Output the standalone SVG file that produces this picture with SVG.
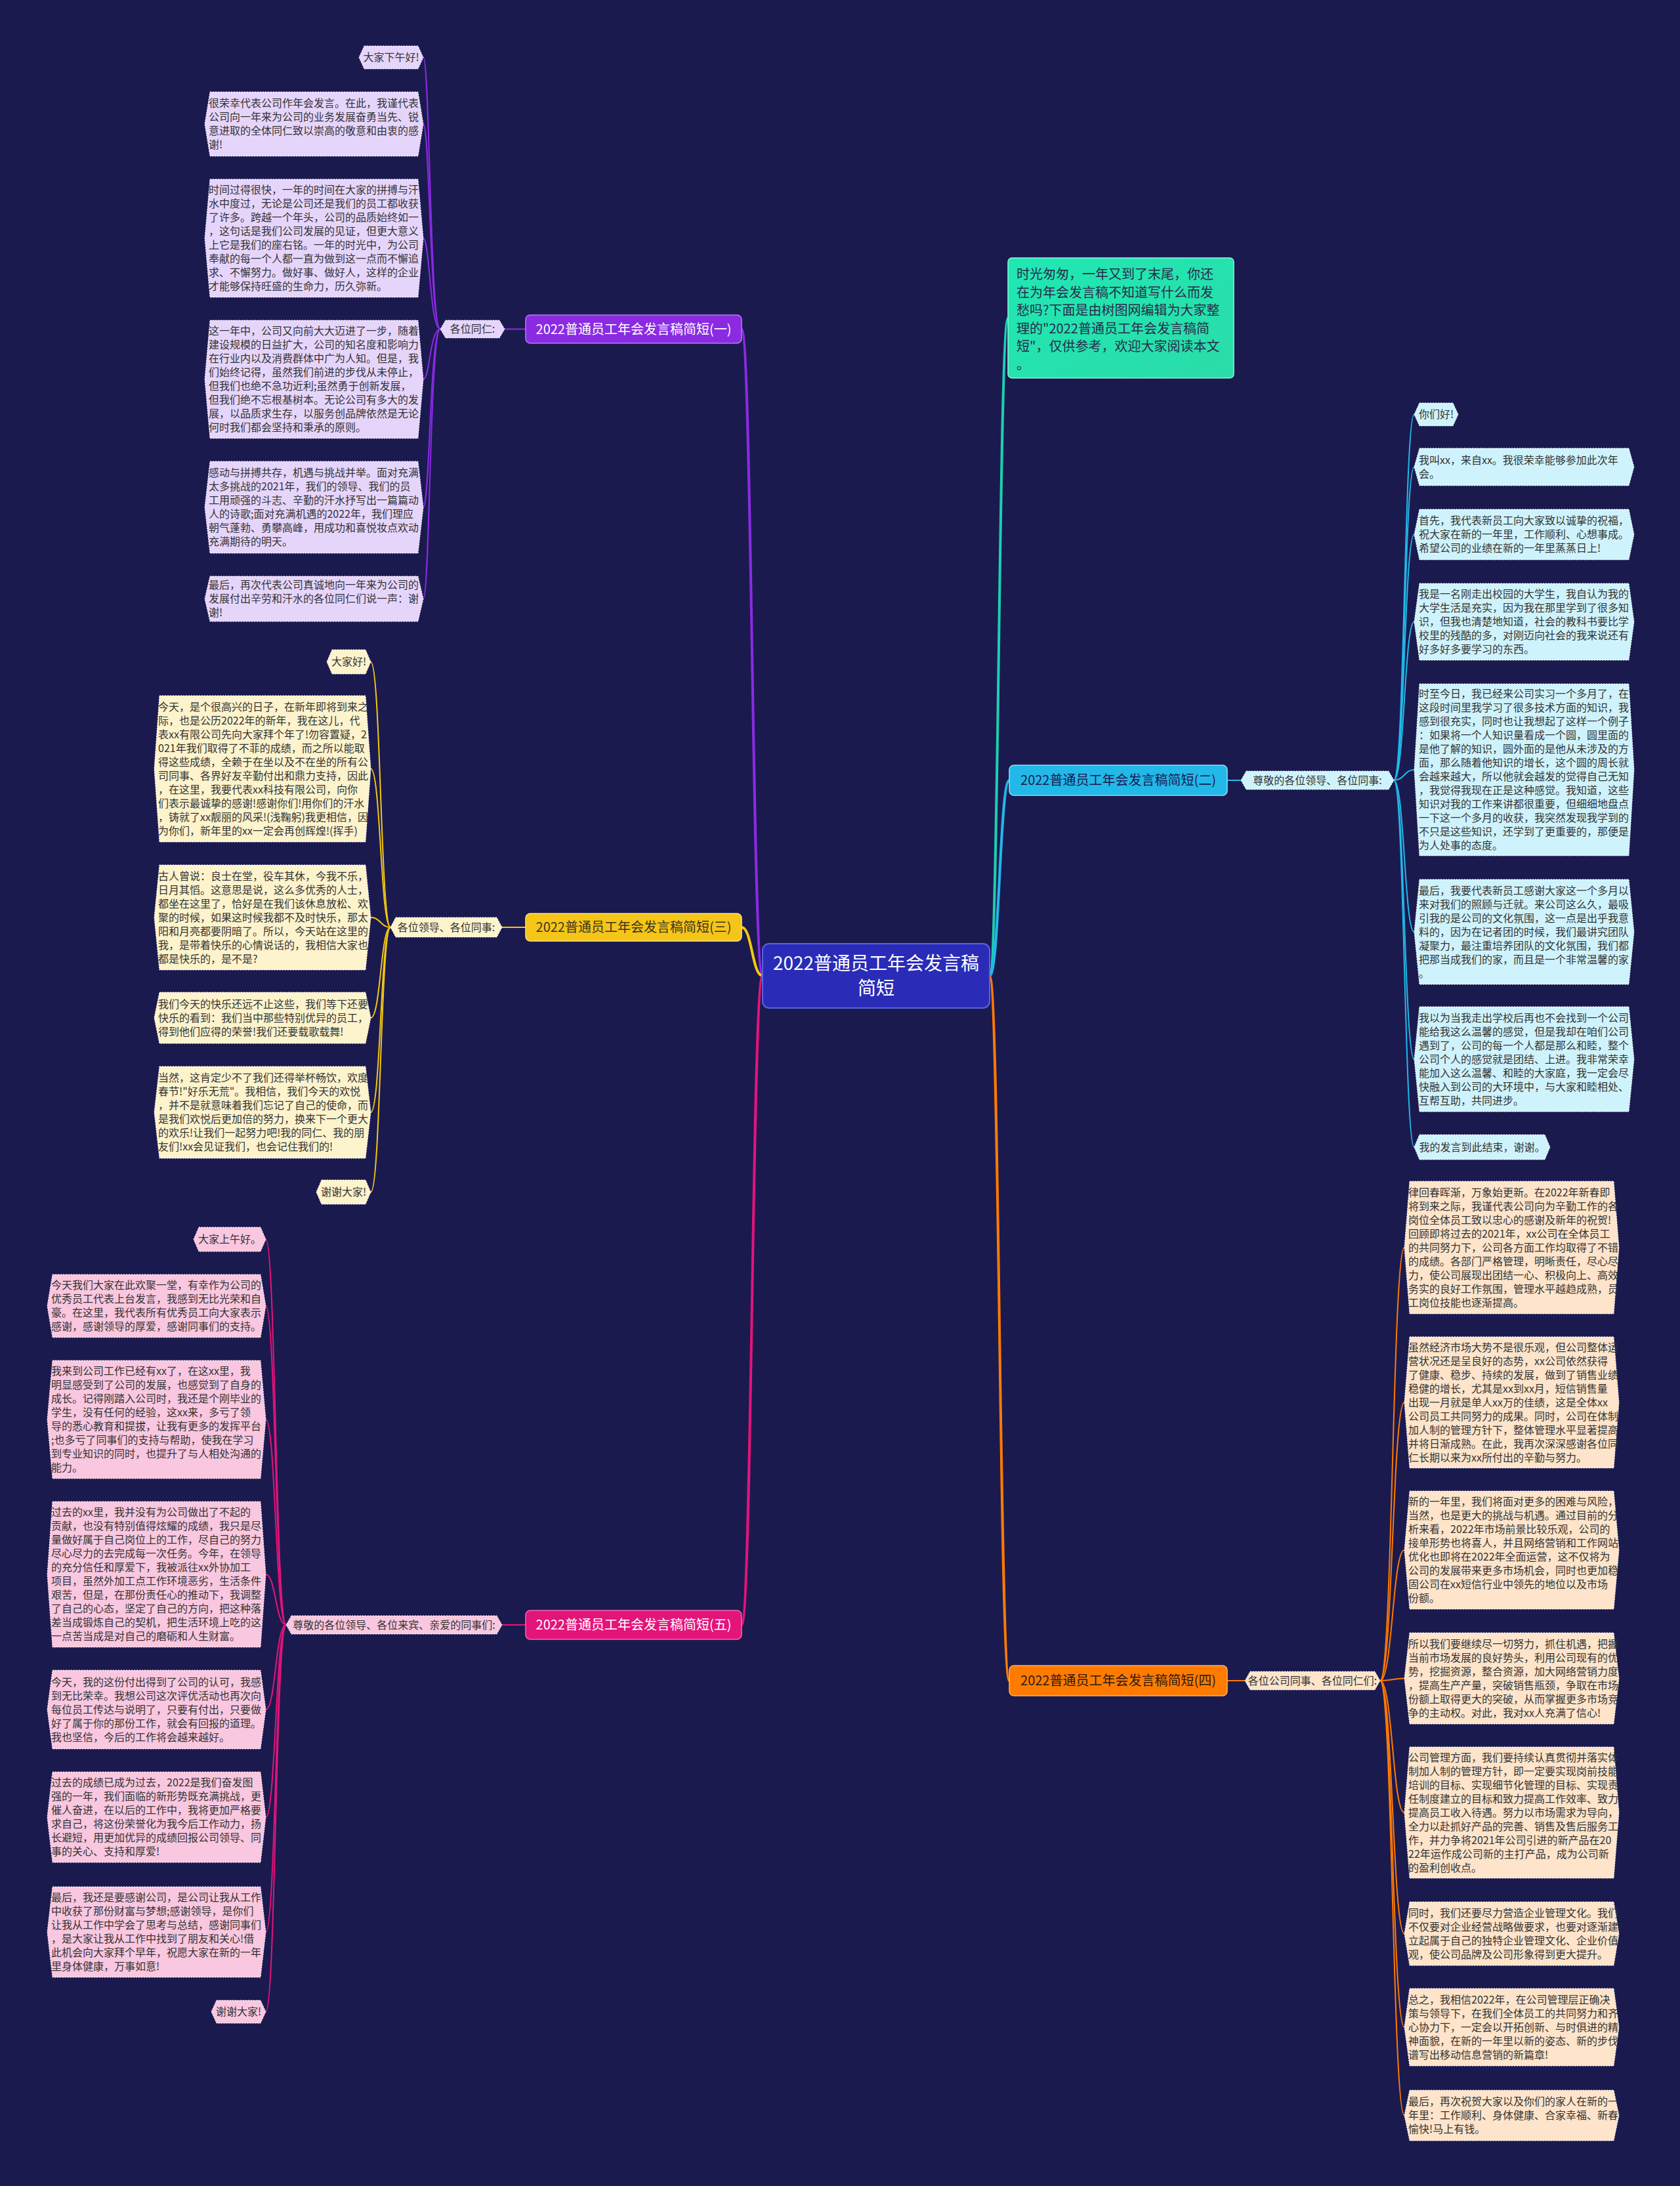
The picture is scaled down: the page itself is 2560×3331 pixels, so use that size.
<svg xmlns="http://www.w3.org/2000/svg" width="2560" height="3331" viewBox="0 0 2560 3331">
<defs>
<style>
text{font-family:"Noto Sans CJK SC","Noto Sans",sans-serif;}
.t{font-size:16px;fill:#333;}
.tm{font-size:16px;fill:#333;text-anchor:middle;}
.lf{stroke:#ffffff;stroke-width:1;stroke-dasharray:2 2;}
.p1{fill:#e6d5fb;}
.p3{fill:#fdf3cc;}
.p5{fill:#f9c7df;}
.p2{fill:#cff3fc;}
.p4{fill:#fde4ca;}
.br{font-size:20px;text-anchor:middle;}
.c{fill:none;stroke-linecap:round;}
.thin{stroke-width:2;}
.thick{stroke-width:4;}
</style>
<linearGradient id="gIntro" x1="0" y1="0" x2="1" y2="1">
<stop offset="0" stop-color="#1fe8b4"/>
<stop offset="1" stop-color="#2bdca8"/>
</linearGradient>
</defs>
<rect x="0" y="0" width="2560" height="3331" fill="#1b1a4f"/>

<g id="connectors">
<path class="c thick" stroke="#8a2be2" d="M1162 1487 C1146 1487 1146 501.5 1130 501.5"/>
<path class="c thick" stroke="#f2c811" d="M1162 1487 C1146 1487 1146 1413 1130 1413"/>
<path class="c thick" stroke="#e3147a" d="M1162 1487 C1146 1487 1146 2476 1130 2476"/>
<path class="c thick" stroke="#1ccfb0" d="M1508 1487 C1522 1487 1522 485 1536 485"/>
<path class="c thick" stroke="#22b8e8" d="M1508 1487 C1523 1487 1523 1189 1538 1189"/>
<path class="c thick" stroke="#ff7b00" d="M1508 1487 C1523 1487 1523 2561 1538 2561"/>
<path class="c thin" stroke="#8a2be2" d="M801 501.5 L769 501.5"/>
<path class="c thin" stroke="#f2c811" d="M801 1413 L765 1413"/>
<path class="c thin" stroke="#e3147a" d="M801 2476 L765 2476"/>
<path class="c thin" stroke="#22b8e8" d="M1870 1189 L1891 1189"/>
<path class="c thin" stroke="#ff7b00" d="M1870 2561 L1897 2561"/>
<g stroke="#8a2be2" class="c thin">
<path d="M671 501.5 C655 501.5 655 87.5 645 87.5"/>
<path d="M671 501.5 C655 501.5 655 189 645 189"/>
<path d="M671 501.5 C655 501.5 655 363 645 363"/>
<path d="M671 501.5 C655 501.5 655 578 645 578"/>
<path d="M671 501.5 C655 501.5 655 773 645 773"/>
<path d="M671 501.5 C655 501.5 655 912.5 645 912.5"/>
</g>
<g stroke="#f2c811" class="c thin">
<path d="M595 1413 C580 1413 580 1008.5 565 1008.5"/>
<path d="M595 1413 C580 1413 580 1171.5 565 1171.5"/>
<path d="M595 1413 C580 1413 580 1398 565 1398"/>
<path d="M595 1413 C580 1413 580 1551 565 1551"/>
<path d="M595 1413 C580 1413 580 1695 565 1695"/>
<path d="M595 1413 C580 1413 580 1816.5 565 1816.5"/>
</g>
<g stroke="#e3147a" class="c thin">
<path d="M436 2476 C420 2476 420 1888.5 405 1888.5"/>
<path d="M436 2476 C420 2476 420 1990 405 1990"/>
<path d="M436 2476 C420 2476 420 2163 405 2163"/>
<path d="M436 2476 C420 2476 420 2399 405 2399"/>
<path d="M436 2476 C420 2476 420 2605 405 2605"/>
<path d="M436 2476 C420 2476 420 2769 405 2769"/>
<path d="M436 2476 C420 2476 420 2944 405 2944"/>
<path d="M436 2476 C420 2476 420 3065.5 405 3065.5"/>
</g>
<g stroke="#22b8e8" class="c thin">
<path d="M2124 1189 C2140 1189 2140 631.5 2155 631.5"/>
<path d="M2124 1189 C2140 1189 2140 711.5 2155 711.5"/>
<path d="M2124 1189 C2140 1189 2140 814.5 2155 814.5"/>
<path d="M2124 1189 C2140 1189 2140 947.5 2155 947.5"/>
<path d="M2124 1189 C2140 1189 2140 1173 2155 1173"/>
<path d="M2124 1189 C2140 1189 2140 1420 2155 1420"/>
<path d="M2124 1189 C2140 1189 2140 1614 2155 1614"/>
<path d="M2124 1189 C2140 1189 2140 1748 2155 1748"/>
</g>
<g stroke="#ff7b00" class="c thin">
<path d="M2103 2561 C2122 2561 2122 1901 2140 1901"/>
<path d="M2103 2561 C2122 2561 2122 2137 2140 2137"/>
<path d="M2103 2561 C2122 2561 2122 2362 2140 2362"/>
<path d="M2103 2561 C2122 2561 2122 2557.5 2140 2557.5"/>
<path d="M2103 2561 C2122 2561 2122 2762 2140 2762"/>
<path d="M2103 2561 C2122 2561 2122 2946.5 2140 2946.5"/>
<path d="M2103 2561 C2122 2561 2122 3089 2140 3089"/>
<path d="M2103 2561 C2122 2561 2122 3223.5 2140 3223.5"/>
</g>
</g>

<g id="center">
<rect x="1162" y="1438" width="346" height="98" rx="10" fill="#2a2cb8" stroke="#5a63e0" stroke-width="2"/>
<text x="1335" y="1478" font-size="28" fill="#ffffff" text-anchor="middle">2022普通员工年会发言稿</text>
<text x="1335" y="1516" font-size="28" fill="#ffffff" text-anchor="middle">简短</text>
</g>

<g id="intro">
<rect x="1536" y="393" width="344" height="183" rx="6" fill="url(#gIntro)" stroke="#8ff5da" stroke-width="1.5"/>
<text font-size="20" fill="#2a2a4a"><tspan x="1549" y="425">时光匆匆，一年又到了末尾，你还</tspan><tspan x="1549" dy="27.6">在为年会发言稿不知道写什么而发</tspan><tspan x="1549" dy="27.6">愁吗?下面是由树图网编辑为大家整</tspan><tspan x="1549" dy="27.6">理的"2022普通员工年会发言稿简</tspan><tspan x="1549" dy="27.6">短"，仅供参考，欢迎大家阅读本文</tspan><tspan x="1549" dy="27.6">。</tspan></text>
</g>

<g id="branch1">
<rect x="801" y="480" width="329" height="43" rx="7" fill="#8a2be2" stroke="#b57cf5" stroke-width="1.5"/>
<text class="br" x="965.5" y="508.5" fill="#ffffff">2022普通员工年会发言稿简短(一)</text>
</g>
<g id="b1-label">
<polygon class="p1 lf" points="679,488 761,488 769,501.5 761,515 679,515 671,501.5"/>
<text class="tm" x="720" y="507">各位同仁:</text>
</g>
<g id="b1-n0">
<polygon class="p1 lf" points="555,70 637,70 645,87.5 637,105 555,105 547,87.5"/>
<text class="tm" x="596" y="93">大家下午好!</text>
</g>
<g id="b1-n1">
<polygon class="p1 lf" points="320,140 637,140 645,189 637,238 320,238 312,189"/>
<text class="t"><tspan x="318" y="163">很荣幸代表公司作年会发言。在此，我谨代表</tspan><tspan x="318" dy="21">公司向一年来为公司的业务发展奋勇当先、锐</tspan><tspan x="318" dy="21">意进取的全体同仁致以崇高的敬意和由衷的感</tspan><tspan x="318" dy="21">谢!</tspan></text>
</g>
<g id="b1-n2">
<polygon class="p1 lf" points="320,273 637,273 645,363 637,453 320,453 312,363"/>
<text class="t"><tspan x="318" y="295">时间过得很快，一年的时间在大家的拼搏与汗</tspan><tspan x="318" dy="21">水中度过，无论是公司还是我们的员工都收获</tspan><tspan x="318" dy="21">了许多。跨越一个年头，公司的品质始终如一</tspan><tspan x="318" dy="21">，这句话是我们公司发展的见证，但更大意义</tspan><tspan x="318" dy="21">上它是我们的座右铭。一年的时光中，为公司</tspan><tspan x="318" dy="21">奉献的每一个人都一直为做到这一点而不懈追</tspan><tspan x="318" dy="21">求、不懈努力。做好事、做好人，这样的企业</tspan><tspan x="318" dy="21">才能够保持旺盛的生命力，历久弥新。</tspan></text>
</g>
<g id="b1-n3">
<polygon class="p1 lf" points="320,488 637,488 645,578 637,668 320,668 312,578"/>
<text class="t"><tspan x="318" y="510">这一年中，公司又向前大大迈进了一步，随着</tspan><tspan x="318" dy="21">建设规模的日益扩大，公司的知名度和影响力</tspan><tspan x="318" dy="21">在行业内以及消费群体中广为人知。但是，我</tspan><tspan x="318" dy="21">们始终记得，虽然我们前进的步伐从未停止，</tspan><tspan x="318" dy="21">但我们也绝不急功近利;虽然勇于创新发展，</tspan><tspan x="318" dy="21">但我们绝不忘根基树本。无论公司有多大的发</tspan><tspan x="318" dy="21">展，以品质求生存，以服务创品牌依然是无论</tspan><tspan x="318" dy="21">何时我们都会坚持和秉承的原则。</tspan></text>
</g>
<g id="b1-n4">
<polygon class="p1 lf" points="320,703 637,703 645,773 637,843 320,843 312,773"/>
<text class="t"><tspan x="318" y="726">感动与拼搏共存，机遇与挑战并举。面对充满</tspan><tspan x="318" dy="21">太多挑战的2021年，我们的领导、我们的员</tspan><tspan x="318" dy="21">工用顽强的斗志、辛勤的汗水抒写出一篇篇动</tspan><tspan x="318" dy="21">人的诗歌;面对充满机遇的2022年，我们理应</tspan><tspan x="318" dy="21">朝气蓬勃、勇攀高峰，用成功和喜悦妆点欢动</tspan><tspan x="318" dy="21">充满期待的明天。</tspan></text>
</g>
<g id="b1-n5">
<polygon class="p1 lf" points="320,878 637,878 645,912.5 637,947 320,947 312,912.5"/>
<text class="t"><tspan x="318" y="897">最后，再次代表公司真诚地向一年来为公司的</tspan><tspan x="318" dy="21">发展付出辛劳和汗水的各位同仁们说一声：谢</tspan><tspan x="318" dy="21">谢!</tspan></text>
</g>

<g id="branch3">
<rect x="801" y="1392" width="329" height="42" rx="7" fill="#f5c518" stroke="#ffe27a" stroke-width="1.5"/>
<text class="br" x="965.5" y="1420" fill="#3a3320">2022普通员工年会发言稿简短(三)</text>
</g>
<g id="b3-label">
<polygon class="p3 lf" points="603,1398 757,1398 765,1413 757,1428 603,1428 595,1413"/>
<text class="tm" x="680" y="1419">各位领导、各位同事:</text>
</g>
<g id="b3-n0">
<polygon class="p3 lf" points="506,990 557,990 565,1008.5 557,1027 506,1027 498,1008.5"/>
<text class="tm" x="531.5" y="1014">大家好!</text>
</g>
<g id="b3-n1">
<polygon class="p3 lf" points="243,1060 557,1060 565,1171.5 557,1283 243,1283 235,1171.5"/>
<text class="t"><tspan x="241" y="1083">今天，是个很高兴的日子，在新年即将到来之</tspan><tspan x="241" dy="21">际，也是公历2022年的新年，我在这儿，代</tspan><tspan x="241" dy="21">表xx有限公司先向大家拜个年了!勿容置疑，2</tspan><tspan x="241" dy="21">021年我们取得了不菲的成绩，而之所以能取</tspan><tspan x="241" dy="21">得这些成绩，全赖于在坐以及不在坐的所有公</tspan><tspan x="241" dy="21">司同事、各界好友辛勤付出和鼎力支持，因此</tspan><tspan x="241" dy="21">，在这里，我要代表xx科技有限公司，向你</tspan><tspan x="241" dy="21">们表示最诚挚的感谢!感谢你们!用你们的汗水</tspan><tspan x="241" dy="21">，铸就了xx靓丽的风采!(浅鞠躬)我更相信，因</tspan><tspan x="241" dy="21">为你们，新年里的xx一定会再创辉煌!(挥手)</tspan></text>
</g>
<g id="b3-n2">
<polygon class="p3 lf" points="243,1318 557,1318 565,1398 557,1478 243,1478 235,1398"/>
<text class="t"><tspan x="241" y="1341">古人曾说：良士在堂，役车其休，今我不乐，</tspan><tspan x="241" dy="21">日月其慆。这意思是说，这么多优秀的人士，</tspan><tspan x="241" dy="21">都坐在这里了，恰好是在我们该休息放松、欢</tspan><tspan x="241" dy="21">聚的时候，如果这时候我都不及时快乐，那太</tspan><tspan x="241" dy="21">阳和月亮都要阴暗了。所以，今天站在这里的</tspan><tspan x="241" dy="21">我，是带着快乐的心情说话的，我相信大家也</tspan><tspan x="241" dy="21">都是快乐的，是不是?</tspan></text>
</g>
<g id="b3-n3">
<polygon class="p3 lf" points="243,1512 557,1512 565,1551 557,1590 243,1590 235,1551"/>
<text class="t"><tspan x="241" y="1536">我们今天的快乐还远不止这些，我们等下还要</tspan><tspan x="241" dy="21">快乐的看到：我们当中那些特别优异的员工，</tspan><tspan x="241" dy="21">得到他们应得的荣誉!我们还要载歌载舞!</tspan></text>
</g>
<g id="b3-n4">
<polygon class="p3 lf" points="243,1625 557,1625 565,1695 557,1765 243,1765 235,1695"/>
<text class="t"><tspan x="241" y="1648">当然，这肯定少不了我们还得举杯畅饮，欢度</tspan><tspan x="241" dy="21">春节!"好乐无荒"。我相信，我们今天的欢悦</tspan><tspan x="241" dy="21">，并不是就意味着我们忘记了自己的使命，而</tspan><tspan x="241" dy="21">是我们欢悦后更加倍的努力，换来下一个更大</tspan><tspan x="241" dy="21">的欢乐!让我们一起努力吧!我的同仁、我的朋</tspan><tspan x="241" dy="21">友们!xx会见证我们，也会记住我们的!</tspan></text>
</g>
<g id="b3-n5">
<polygon class="p3 lf" points="490,1798 557,1798 565,1816.5 557,1835 490,1835 482,1816.5"/>
<text class="tm" x="523.5" y="1822">谢谢大家!</text>
</g>

<g id="branch5">
<rect x="801" y="2454" width="329" height="44" rx="7" fill="#e3147a" stroke="#f56aa8" stroke-width="1.5"/>
<text class="br" x="965.5" y="2483" fill="#ffffff">2022普通员工年会发言稿简短(五)</text>
</g>
<g id="b5-label">
<polygon class="p5 lf" points="444,2462 757,2462 765,2476 757,2490 444,2490 436,2476"/>
<text class="tm" x="600.5" y="2482">尊敬的各位领导、各位来宾、亲爱的同事们:</text>
</g>
<g id="b5-n0">
<polygon class="p5 lf" points="303,1870 397,1870 405,1888.5 397,1907 303,1907 295,1888.5"/>
<text class="tm" x="350" y="1894">大家上午好。</text>
</g>
<g id="b5-n1">
<polygon class="p5 lf" points="80,1942 397,1942 405,1990 397,2038 80,2038 72,1990"/>
<text class="t"><tspan x="78" y="1964">今天我们大家在此欢聚一堂，有幸作为公司的</tspan><tspan x="78" dy="21">优秀员工代表上台发言，我感到无比光荣和自</tspan><tspan x="78" dy="21">豪。在这里，我代表所有优秀员工向大家表示</tspan><tspan x="78" dy="21">感谢，感谢领导的厚爱，感谢同事们的支持。</tspan></text>
</g>
<g id="b5-n2">
<polygon class="p5 lf" points="80,2073 397,2073 405,2163 397,2253 80,2253 72,2163"/>
<text class="t"><tspan x="78" y="2095">我来到公司工作已经有xx了，在这xx里，我</tspan><tspan x="78" dy="21">明显感受到了公司的发展，也感觉到了自身的</tspan><tspan x="78" dy="21">成长。记得刚踏入公司时，我还是个刚毕业的</tspan><tspan x="78" dy="21">学生，没有任何的经验，这xx来，多亏了领</tspan><tspan x="78" dy="21">导的悉心教育和提拔，让我有更多的发挥平台</tspan><tspan x="78" dy="21">;也多亏了同事们的支持与帮助，使我在学习</tspan><tspan x="78" dy="21">到专业知识的同时，也提升了与人相处沟通的</tspan><tspan x="78" dy="21">能力。</tspan></text>
</g>
<g id="b5-n3">
<polygon class="p5 lf" points="80,2288 397,2288 405,2399 397,2510 80,2510 72,2399"/>
<text class="t"><tspan x="78" y="2310">过去的xx里，我并没有为公司做出了不起的</tspan><tspan x="78" dy="21">贡献，也没有特别值得炫耀的成绩，我只是尽</tspan><tspan x="78" dy="21">量做好属于自己岗位上的工作，尽自己的努力</tspan><tspan x="78" dy="21">尽心尽力的去完成每一次任务。今年，在领导</tspan><tspan x="78" dy="21">的充分信任和厚爱下，我被派往xx外协加工</tspan><tspan x="78" dy="21">项目，虽然外加工点工作环境恶劣，生活条件</tspan><tspan x="78" dy="21">艰苦，但是，在那份责任心的推动下，我调整</tspan><tspan x="78" dy="21">了自己的心态，坚定了自己的方向，把这种落</tspan><tspan x="78" dy="21">差当成锻炼自己的契机，把生活环境上吃的这</tspan><tspan x="78" dy="21">一点苦当成是对自己的磨砺和人生财富。</tspan></text>
</g>
<g id="b5-n4">
<polygon class="p5 lf" points="80,2545 397,2545 405,2605 397,2665 80,2665 72,2605"/>
<text class="t"><tspan x="78" y="2569">今天，我的这份付出得到了公司的认可，我感</tspan><tspan x="78" dy="21">到无比荣幸。我想公司这次评优活动也再次向</tspan><tspan x="78" dy="21">每位员工传达与说明了，只要有付出，只要做</tspan><tspan x="78" dy="21">好了属于你的那份工作，就会有回报的道理。</tspan><tspan x="78" dy="21">我也坚信，今后的工作将会越来越好。</tspan></text>
</g>
<g id="b5-n5">
<polygon class="p5 lf" points="80,2700 397,2700 405,2769 397,2838 80,2838 72,2769"/>
<text class="t"><tspan x="78" y="2722">过去的成绩已成为过去，2022是我们奋发图</tspan><tspan x="78" dy="21">强的一年，我们面临的新形势既充满挑战，更</tspan><tspan x="78" dy="21">催人奋进，在以后的工作中，我将更加严格要</tspan><tspan x="78" dy="21">求自己，将这份荣誉化为我今后工作动力，扬</tspan><tspan x="78" dy="21">长避短，用更加优异的成绩回报公司领导、同</tspan><tspan x="78" dy="21">事的关心、支持和厚爱!</tspan></text>
</g>
<g id="b5-n6">
<polygon class="p5 lf" points="80,2875 397,2875 405,2944 397,3013 80,3013 72,2944"/>
<text class="t"><tspan x="78" y="2897">最后，我还是要感谢公司，是公司让我从工作</tspan><tspan x="78" dy="21">中收获了那份财富与梦想;感谢领导，是你们</tspan><tspan x="78" dy="21">让我从工作中学会了思考与总结，感谢同事们</tspan><tspan x="78" dy="21">，是大家让我从工作中找到了朋友和关心!借</tspan><tspan x="78" dy="21">此机会向大家拜个早年，祝愿大家在新的一年</tspan><tspan x="78" dy="21">里身体健康，万事如意!</tspan></text>
</g>
<g id="b5-n7">
<polygon class="p5 lf" points="330,3048 397,3048 405,3065.5 397,3083 330,3083 322,3065.5"/>
<text class="tm" x="363.5" y="3071">谢谢大家!</text>
</g>

<g id="branch2">
<rect x="1538" y="1166" width="332" height="46" rx="7" fill="#22b8e8" stroke="#8ee0fa" stroke-width="1.5"/>
<text class="br" x="1704" y="1196" fill="#1b1a4f">2022普通员工年会发言稿简短(二)</text>
</g>
<g id="b2-label">
<polygon class="p2 lf" points="1899,1175 2116,1175 2124,1189 2116,1203 1899,1203 1891,1189"/>
<text class="tm" x="2007.5" y="1195">尊敬的各位领导、各位同事:</text>
</g>
<g id="b2-n0">
<polygon class="p2 lf" points="2163,614 2214,614 2222,631.5 2214,649 2163,649 2155,631.5"/>
<text class="tm" x="2188.5" y="637">你们好!</text>
</g>
<g id="b2-n1">
<polygon class="p2 lf" points="2163,683 2482,683 2490,711.5 2482,740 2163,740 2155,711.5"/>
<text class="t"><tspan x="2162" y="707">我叫xx，来自xx。我很荣幸能够参加此次年</tspan><tspan x="2162" dy="21">会。</tspan></text>
</g>
<g id="b2-n2">
<polygon class="p2 lf" points="2163,776 2482,776 2490,814.5 2482,853 2163,853 2155,814.5"/>
<text class="t"><tspan x="2162" y="799">首先，我代表新员工向大家致以诚挚的祝福，</tspan><tspan x="2162" dy="21">祝大家在新的一年里，工作顺利、心想事成。</tspan><tspan x="2162" dy="21">希望公司的业绩在新的一年里蒸蒸日上!</tspan></text>
</g>
<g id="b2-n3">
<polygon class="p2 lf" points="2163,889 2482,889 2490,947.5 2482,1006 2163,1006 2155,947.5"/>
<text class="t"><tspan x="2162" y="911">我是一名刚走出校园的大学生，我自认为我的</tspan><tspan x="2162" dy="21">大学生活是充实，因为我在那里学到了很多知</tspan><tspan x="2162" dy="21">识，但我也清楚地知道，社会的教科书要比学</tspan><tspan x="2162" dy="21">校里的残酷的多，对刚迈向社会的我来说还有</tspan><tspan x="2162" dy="21">好多好多要学习的东西。</tspan></text>
</g>
<g id="b2-n4">
<polygon class="p2 lf" points="2163,1042 2482,1042 2490,1173 2482,1304 2163,1304 2155,1173"/>
<text class="t"><tspan x="2162" y="1063">时至今日，我已经来公司实习一个多月了，在</tspan><tspan x="2162" dy="21">这段时间里我学习了很多技术方面的知识，我</tspan><tspan x="2162" dy="21">感到很充实，同时也让我想起了这样一个例子</tspan><tspan x="2162" dy="21">：如果将一个人知识量看成一个圆，圆里面的</tspan><tspan x="2162" dy="21">是他了解的知识，圆外面的是他从未涉及的方</tspan><tspan x="2162" dy="21">面，那么随着他知识的增长，这个圆的周长就</tspan><tspan x="2162" dy="21">会越来越大，所以他就会越发的觉得自己无知</tspan><tspan x="2162" dy="21">，我觉得我现在正是这种感觉。我知道，这些</tspan><tspan x="2162" dy="21">知识对我的工作来讲都很重要，但细细地盘点</tspan><tspan x="2162" dy="21">一下这一个多月的收获，我突然发现我学到的</tspan><tspan x="2162" dy="21">不只是这些知识，还学到了更重要的，那便是</tspan><tspan x="2162" dy="21">为人处事的态度。</tspan></text>
</g>
<g id="b2-n5">
<polygon class="p2 lf" points="2163,1340 2482,1340 2490,1420 2482,1500 2163,1500 2155,1420"/>
<text class="t"><tspan x="2162" y="1363">最后，我要代表新员工感谢大家这一个多月以</tspan><tspan x="2162" dy="21">来对我们的照顾与迁就。来公司这么久，最吸</tspan><tspan x="2162" dy="21">引我的是公司的文化氛围，这一点是出乎我意</tspan><tspan x="2162" dy="21">料的，因为在记者团的时候，我们最讲究团队</tspan><tspan x="2162" dy="21">凝聚力，最注重培养团队的文化氛围，我们都</tspan><tspan x="2162" dy="21">把那当成我们的家，而且是一个非常温馨的家</tspan><tspan x="2162" dy="21">。</tspan></text>
</g>
<g id="b2-n6">
<polygon class="p2 lf" points="2163,1534 2482,1534 2490,1614 2482,1694 2163,1694 2155,1614"/>
<text class="t"><tspan x="2162" y="1557">我以为当我走出学校后再也不会找到一个公司</tspan><tspan x="2162" dy="21">能给我这么温馨的感觉，但是我却在咱们公司</tspan><tspan x="2162" dy="21">遇到了，公司的每一个人都是那么和睦，整个</tspan><tspan x="2162" dy="21">公司个人的感觉就是团结、上进。我非常荣幸</tspan><tspan x="2162" dy="21">能加入这么温馨、和睦的大家庭，我一定会尽</tspan><tspan x="2162" dy="21">快融入到公司的大环境中，与大家和睦相处、</tspan><tspan x="2162" dy="21">互帮互助，共同进步。</tspan></text>
</g>
<g id="b2-n7">
<polygon class="p2 lf" points="2163,1729 2354,1729 2362,1748 2354,1767 2163,1767 2155,1748"/>
<text class="tm" x="2258.5" y="1754">我的发言到此结束，谢谢。</text>
</g>

<g id="branch4">
<rect x="1538" y="2538" width="332" height="46" rx="7" fill="#ff7b00" stroke="#ffb366" stroke-width="1.5"/>
<text class="br" x="1704" y="2568" fill="#2a1a10">2022普通员工年会发言稿简短(四)</text>
</g>
<g id="b4-label">
<polygon class="p4 lf" points="1905,2547 2095,2547 2103,2561 2095,2575 1905,2575 1897,2561"/>
<text class="tm" x="2000" y="2567">各位公司同事、各位同仁们:</text>
</g>
<g id="b4-n0">
<polygon class="p4 lf" points="2148,1800 2459,1800 2467,1901 2459,2002 2148,2002 2140,1901"/>
<text class="t"><tspan x="2146" y="1823">律回春晖渐，万象始更新。在2022年新春即</tspan><tspan x="2146" dy="21">将到来之际，我谨代表公司向为辛勤工作的各</tspan><tspan x="2146" dy="21">岗位全体员工致以忠心的感谢及新年的祝贺!</tspan><tspan x="2146" dy="21">回顾即将过去的2021年，xx公司在全体员工</tspan><tspan x="2146" dy="21">的共同努力下，公司各方面工作均取得了不错</tspan><tspan x="2146" dy="21">的成绩。各部门严格管理，明晰责任，尽心尽</tspan><tspan x="2146" dy="21">力，使公司展现出团结一心、积极向上、高效</tspan><tspan x="2146" dy="21">务实的良好工作氛围，管理水平越趋成熟，员</tspan><tspan x="2146" dy="21">工岗位技能也逐渐提高。</tspan></text>
</g>
<g id="b4-n1">
<polygon class="p4 lf" points="2148,2037 2459,2037 2467,2137 2459,2237 2148,2237 2140,2137"/>
<text class="t"><tspan x="2146" y="2059">虽然经济市场大势不是很乐观，但公司整体运</tspan><tspan x="2146" dy="21">营状况还是呈良好的态势，xx公司依然获得</tspan><tspan x="2146" dy="21">了健康、稳步、持续的发展，做到了销售业绩</tspan><tspan x="2146" dy="21">稳健的增长，尤其是xx到xx月，短信销售量</tspan><tspan x="2146" dy="21">出现一月就是单人xx万的佳绩，这是全体xx</tspan><tspan x="2146" dy="21">公司员工共同努力的成果。同时，公司在体制</tspan><tspan x="2146" dy="21">加人制的管理方针下，整体管理水平显著提高</tspan><tspan x="2146" dy="21">并将日渐成熟。在此，我再次深深感谢各位同</tspan><tspan x="2146" dy="21">仁长期以来为xx所付出的辛勤与努力。</tspan></text>
</g>
<g id="b4-n2">
<polygon class="p4 lf" points="2148,2272 2459,2272 2467,2362 2459,2452 2148,2452 2140,2362"/>
<text class="t"><tspan x="2146" y="2294">新的一年里，我们将面对更多的困难与风险，</tspan><tspan x="2146" dy="21">当然，也是更大的挑战与机遇。通过目前的分</tspan><tspan x="2146" dy="21">析来看，2022年市场前景比较乐观，公司的</tspan><tspan x="2146" dy="21">接单形势也将喜人，并且网络营销和工作网站</tspan><tspan x="2146" dy="21">优化也即将在2022年全面运营，这不仅将为</tspan><tspan x="2146" dy="21">公司的发展带来更多市场机会，同时也更加稳</tspan><tspan x="2146" dy="21">固公司在xx短信行业中领先的地位以及市场</tspan><tspan x="2146" dy="21">份额。</tspan></text>
</g>
<g id="b4-n3">
<polygon class="p4 lf" points="2148,2488 2459,2488 2467,2557.5 2459,2627 2148,2627 2140,2557.5"/>
<text class="t"><tspan x="2146" y="2511">所以我们要继续尽一切努力，抓住机遇，把握</tspan><tspan x="2146" dy="21">当前市场发展的良好势头，利用公司现有的优</tspan><tspan x="2146" dy="21">势，挖掘资源，整合资源，加大网络营销力度</tspan><tspan x="2146" dy="21">，提高生产产量，突破销售瓶颈，争取在市场</tspan><tspan x="2146" dy="21">份额上取得更大的突破，从而掌握更多市场竞</tspan><tspan x="2146" dy="21">争的主动权。对此，我对xx人充满了信心!</tspan></text>
</g>
<g id="b4-n4">
<polygon class="p4 lf" points="2148,2662 2459,2662 2467,2762 2459,2862 2148,2862 2140,2762"/>
<text class="t"><tspan x="2146" y="2684">公司管理方面，我们要持续认真贯彻并落实体</tspan><tspan x="2146" dy="21">制加人制的管理方针，即一定要实现岗前技能</tspan><tspan x="2146" dy="21">培训的目标、实现细节化管理的目标、实现责</tspan><tspan x="2146" dy="21">任制度建立的目标和致力提高工作效率、致力</tspan><tspan x="2146" dy="21">提高员工收入待遇。努力以市场需求为导向，</tspan><tspan x="2146" dy="21">全力以赴抓好产品的完善、销售及售后服务工</tspan><tspan x="2146" dy="21">作，并力争将2021年公司引进的新产品在20</tspan><tspan x="2146" dy="21">22年运作成公司新的主打产品，成为公司新</tspan><tspan x="2146" dy="21">的盈利创收点。</tspan></text>
</g>
<g id="b4-n5">
<polygon class="p4 lf" points="2148,2898 2459,2898 2467,2946.5 2459,2995 2148,2995 2140,2946.5"/>
<text class="t"><tspan x="2146" y="2921">同时，我们还要尽力营造企业管理文化。我们</tspan><tspan x="2146" dy="21">不仅要对企业经营战略做要求，也要对逐渐建</tspan><tspan x="2146" dy="21">立起属于自己的独特企业管理文化、企业价值</tspan><tspan x="2146" dy="21">观，使公司品牌及公司形象得到更大提升。</tspan></text>
</g>
<g id="b4-n6">
<polygon class="p4 lf" points="2148,3030 2459,3030 2467,3089 2459,3148 2148,3148 2140,3089"/>
<text class="t"><tspan x="2146" y="3053">总之，我相信2022年，在公司管理层正确决</tspan><tspan x="2146" dy="21">策与领导下，在我们全体员工的共同努力和齐</tspan><tspan x="2146" dy="21">心协力下，一定会以开拓创新、与时俱进的精</tspan><tspan x="2146" dy="21">神面貌，在新的一年里以新的姿态、新的步伐</tspan><tspan x="2146" dy="21">谱写出移动信息营销的新篇章!</tspan></text>
</g>
<g id="b4-n7">
<polygon class="p4 lf" points="2148,3185 2459,3185 2467,3223.5 2459,3262 2148,3262 2140,3223.5"/>
<text class="t"><tspan x="2146" y="3208">最后，再次祝贺大家以及你们的家人在新的一</tspan><tspan x="2146" dy="21">年里：工作顺利、身体健康、合家幸福、新春</tspan><tspan x="2146" dy="21">愉快!马上有钱。</tspan></text>
</g>
</svg>
